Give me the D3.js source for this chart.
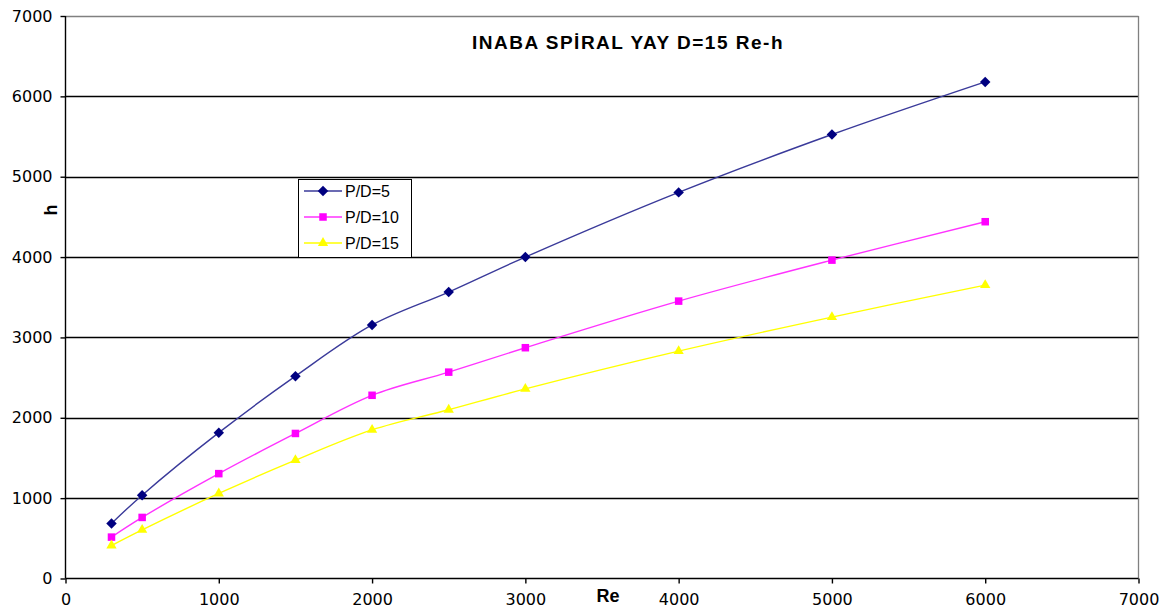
<!DOCTYPE html>
<html>
<head>
<meta charset="utf-8">
<script src="https://cdn.jsdelivr.net/npm/d3@7"></script>
<style>
  html, body { margin: 0; padding: 0; background: #fff; }
  svg { display: block; }
</style>
</head>
<body>
<svg id="chart" width="1167" height="612"></svg>
<script>
// Reynolds number samples and heat transfer values per pitch ratio
const reValues = [300, 500, 1000, 1500, 2000, 2500, 3000, 4000, 5000, 6000];
const hPD5  = [685, 1037, 1815, 2518, 3155, 3565, 4000, 4805, 5525, 6180];
const hPD10 = [515, 760, 1305, 1805, 2280, 2568, 2872, 3452, 3962, 4440];
const hPD15 = [410, 605, 1058, 1473, 1850, 2100, 2360, 2830, 3253, 3651];
const seriesNames = ["P/D=5", "P/D=10", "P/D=15"];
const xTicks = [0, 1000, 2000, 3000, 4000, 5000, 6000, 7000];
const yTicks = [0, 1000, 2000, 3000, 4000, 5000, 6000, 7000];

const svg = d3.select("#chart");
const plotLeft = 65.5, plotRight = 1138.5, plotTop = 16, plotBottom = 578.5;

const x = d3.scaleLinear().domain([0, 7000]).range([plotLeft, plotRight]);
const y = d3.scaleLinear().domain([0, 7000]).range([plotBottom, plotTop]);

const series = [
  { name: seriesNames[0], values: hPD5,  color: "#000080", stroke: "#3a3a9a", symbol: d3.symbolDiamond2, size: 70 },
  { name: seriesNames[1], values: hPD10, color: "#ff00ff", stroke: "#ff33ff", symbol: d3.symbolSquare2, size: 72 },
  { name: seriesNames[2], values: hPD15, color: "#ffff00", stroke: "#ffff00", symbol: d3.symbolTriangle2, size: 76 }
];

// Horizontal gridlines
svg.append("g").selectAll("line")
  .data(yTicks.filter(d => d > 0 && d < 7000))
  .join("line")
  .attr("x1", plotLeft).attr("x2", plotRight)
  .attr("y1", d => Math.round(y(d)) + 0.5).attr("y2", d => Math.round(y(d)) + 0.5)
  .attr("stroke", "#000").attr("stroke-width", 1.4);

// Plot frame: gray top and right edges
svg.append("line").attr("x1", plotLeft).attr("x2", plotRight)
  .attr("y1", Math.round(y(7000)) + 0.5).attr("y2", Math.round(y(7000)) + 0.5)
  .attr("stroke", "#808080").attr("stroke-width", 1.3);
svg.append("line").attr("x1", plotRight).attr("x2", plotRight)
  .attr("y1", y(7000)).attr("y2", y(0))
  .attr("stroke", "#808080").attr("stroke-width", 1.3);

// Axes
const xAxis = d3.axisBottom(x).tickValues(xTicks).tickSize(5).tickPadding(10).tickFormat(d3.format("d"));
const yAxis = d3.axisLeft(y).tickValues(yTicks).tickSize(5).tickPadding(8).tickFormat(d3.format("d"));

const gx = svg.append("g").attr("transform", `translate(0,${plotBottom})`).call(xAxis);
const gy = svg.append("g").attr("transform", `translate(${plotLeft},0)`).call(yAxis);
[gx, gy].forEach(g => {
  g.select(".domain").attr("stroke", "#000").attr("stroke-width", 1.4);
  g.selectAll(".tick line").attr("stroke", "#000").attr("stroke-width", 1.4);
  g.selectAll(".tick text")
    .attr("fill", "#000")
    .style("font-family", "'DejaVu Sans', Verdana, sans-serif")
    .style("font-size", "16px");
});
gx.select(".domain").attr("d", `M${plotLeft},0H${plotRight}`);
gy.select(".domain").attr("d", `M0,${plotTop}V${plotBottom}`);

// Lines and markers
const line = d3.line()
  .x((d, i) => x(reValues[i]))
  .y(d => y(d))
  .curve(d3.curveCatmullRom.alpha(0.5));

series.forEach(s => {
  svg.append("path")
    .datum(s.values)
    .attr("d", line)
    .attr("fill", "none")
    .attr("stroke", s.stroke)
    .attr("stroke-width", 1.4);
  svg.append("g").selectAll("path")
    .data(s.values)
    .join("path")
    .attr("transform", (d, i) => `translate(${x(reValues[i])},${y(d)})`)
    .attr("d", d3.symbol().type(s.symbol).size(s.size))
    .attr("fill", s.color);
});

// Title
svg.append("text")
  .attr("x", 628).attr("y", 48.5)
  .attr("text-anchor", "middle")
  .style("font-family", "'Liberation Sans', Arial, sans-serif")
  .style("font-weight", "bold")
  .style("font-size", "19px")
  .style("letter-spacing", "1.5px")
  .text("INABA SPİRAL YAY D=15 Re-h");

// Axis titles
svg.append("text")
  .attr("x", 608).attr("y", 602)
  .attr("text-anchor", "middle")
  .style("font-family", "'Liberation Sans', Arial, sans-serif")
  .style("font-weight", "bold")
  .style("font-size", "18px")
  .text("Re");

svg.append("text")
  .attr("transform", "translate(57,210) rotate(-90)")
  .attr("text-anchor", "middle")
  .style("font-family", "'Liberation Sans', Arial, sans-serif")
  .style("font-weight", "bold")
  .style("font-size", "18px")
  .text("h");

// Legend
const legend = svg.append("g").attr("transform", "translate(298,179)");
legend.append("rect")
  .attr("x", 0.5).attr("y", 0.5).attr("width", 113).attr("height", 78)
  .attr("fill", "#fff").attr("stroke", "#000").attr("stroke-width", 1);
series.forEach((s, i) => {
  const ly = 12 + i * 26;
  const item = legend.append("g").attr("transform", `translate(0,${ly})`);
  item.append("line").attr("x1", 6).attr("x2", 44).attr("y1", 0).attr("y2", 0)
    .attr("stroke", s.stroke).attr("stroke-width", 1.4);
  item.append("path")
    .attr("transform", "translate(25,0)")
    .attr("d", d3.symbol().type(s.symbol).size(s.size))
    .attr("fill", s.color);
  item.append("text")
    .attr("x", 47).attr("y", 0).attr("dy", "0.36em")
    .style("font-family", "'Liberation Sans', Arial, sans-serif")
    .style("font-size", "16px")
    .text(s.name);
});
</script>
</body>
</html>
